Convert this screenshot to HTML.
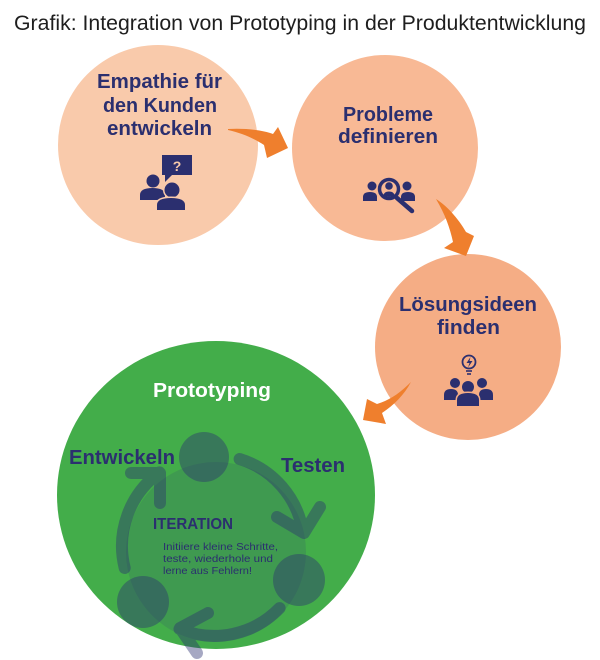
<!DOCTYPE html>
<html>
<head>
<meta charset="utf-8">
<style>
  html,body{margin:0;padding:0;background:#fff;}
  svg{display:block;}
  text{font-family:"Liberation Sans","DejaVu Sans",sans-serif;}
</style>
</head>
<body>
<svg width="600" height="660" viewBox="0 0 600 660" xmlns="http://www.w3.org/2000/svg">
  <rect width="600" height="660" fill="#fff"/>

  <!-- Title -->
  <text x="14" y="30" font-size="21" fill="#1e1e1e" textLength="572" lengthAdjust="spacingAndGlyphs">Grafik: Integration von Prototyping in der Produktentwicklung</text>

  <!-- Peach circles -->
  <circle cx="158" cy="145" r="100" fill="#f9caab"/>
  <circle cx="385" cy="148" r="93" fill="#f8b995"/>
  <circle cx="468" cy="347" r="93" fill="#f5ad85"/>

  <!-- Green circle -->
  <ellipse cx="216" cy="495" rx="159" ry="154" fill="#43ad4a"/>

  <!-- Circle texts -->
  <g fill="#2b2f6f" font-weight="bold" font-size="20">
    <text x="97" y="88" textLength="125" lengthAdjust="spacingAndGlyphs">Empathie für</text>
    <text x="103" y="112" textLength="114" lengthAdjust="spacingAndGlyphs">den Kunden</text>
    <text x="107" y="135" textLength="105" lengthAdjust="spacingAndGlyphs">entwickeln</text>

    <text x="343" y="121" textLength="90" lengthAdjust="spacingAndGlyphs">Probleme</text>
    <text x="338" y="143" textLength="100" lengthAdjust="spacingAndGlyphs">definieren</text>

    <text x="399" y="311" textLength="138" lengthAdjust="spacingAndGlyphs">Lösungsideen</text>
    <text x="437" y="334" textLength="63" lengthAdjust="spacingAndGlyphs">finden</text>
  </g>

  <!-- Icon 1: people with question bubble -->
  <g fill="#2b2f6f">
    <rect x="162" y="155" width="30" height="20"/>
    <path d="M165 174 L173 174 L165 182 Z"/>
    <text x="177" y="171" font-size="14" font-weight="bold" fill="#f9caab" text-anchor="middle">?</text>
    <circle cx="153" cy="181" r="6.5"/>
    <path d="M140 200 V195 Q140 188 152.5 188 Q165 188 165 195 V200 Z"/>
    <circle cx="172" cy="190" r="7.5" stroke="#f9caab" stroke-width="3" paint-order="stroke"/>
    <path d="M157 210 V205 Q157 198 171 198 Q185 198 185 205 V210 Z" stroke="#f9caab" stroke-width="3" paint-order="stroke"/>
  </g>

  <!-- Icon 2: people search -->
  <g fill="#2b2f6f">
    <circle cx="372" cy="186" r="4.5"/>
    <path d="M363 201 V197 Q363 192 370 192 Q377 192 377 197 V201 Z"/>
    <circle cx="407" cy="186" r="4.5"/>
    <path d="M401 201 V197 Q401 192 408 192 Q415 192 415 197 V201 Z"/>
    <circle cx="389" cy="189" r="12.5" fill="#f8b995"/>
    <circle cx="389" cy="189" r="9.5" fill="none" stroke="#2b2f6f" stroke-width="3.5"/>
    <circle cx="389" cy="186" r="3.8"/>
    <path d="M383.5 195.5 Q384 191.5 389 191.5 Q394 191.5 394.5 195.5 Q389 198.5 383.5 195.5 Z"/>
    <line x1="397" y1="198" x2="412" y2="211" stroke="#2b2f6f" stroke-width="4.5" stroke-linecap="round"/>
  </g>

  <!-- Icon 3: lightbulb + team -->
  <g fill="#2b2f6f">
    <circle cx="469" cy="362" r="6.5" fill="none" stroke="#2b2f6f" stroke-width="1.8"/>
    <path d="M470.5 357 L466.5 363 L469.5 363 L468 367.5 L472.5 361 L469.5 361 Z"/>
    <line x1="466" y1="371" x2="472" y2="371" stroke="#2b2f6f" stroke-width="1.6"/>
    <line x1="467" y1="374" x2="471" y2="374" stroke="#2b2f6f" stroke-width="1.6"/>
    <circle cx="455" cy="383" r="5"/>
    <path d="M444 400 V395 Q444 389 451 389 Q458 389 458 395 V400 Z"/>
    <circle cx="482" cy="383" r="5"/>
    <path d="M479 400 V395 Q479 389 486 389 Q493 389 493 395 V400 Z"/>
    <circle cx="468" cy="387" r="6" stroke="#f5ad85" stroke-width="3" paint-order="stroke"/>
    <path d="M457 406 V400 Q457 393 468 393 Q479 393 479 400 V406 Z" stroke="#f5ad85" stroke-width="3" paint-order="stroke"/>
  </g>

  <!-- Orange arrows -->
  <g fill="#ef7f2d">
    <path d="M228 129 C245 128 262 130 273 134 L278 127 L288 148 L267 158 L264 145 C255 139 242 133 228 130 Z"/>
    <path d="M436 199 C446 205 458 218 466 232 L474 236 L466 256 L444 248 L453 242 C450 228 445 214 436 199 Z"/>
    <path d="M411 382 C400 393 390 400 377 404 L367 399 L363 420 L386 424 L382 413 C394 405 404 395 411 382 Z"/>
  </g>

  <!-- Iteration cycle overlay -->
  <circle cx="216" cy="552" r="90" fill="#2b2f6f" fill-opacity="0.15"/>
  <g fill="#2b2f6f" fill-opacity="0.42">
    <circle cx="204" cy="457" r="25"/>
    <circle cx="299" cy="580" r="26"/>
    <circle cx="143" cy="602" r="26"/>
  </g>
  <g fill="none" stroke="#2b2f6f" stroke-opacity="0.42" stroke-width="12" stroke-linecap="round" stroke-linejoin="round">
    <path d="M239.6 459 A91 91 0 0 1 302.9 531.8 M277 517 L304 533 L320 507"/>
    <path d="M279.6 608.1 A91 91 0 0 1 179.5 629 M208 613 L180 628 L197 653"/>
    <path d="M124.7 568 A91 91 0 0 1 159.5 472.4 M131 473 L160 473 L160 503"/>
  </g>

  <!-- Green circle texts -->
  <text x="153" y="397" font-size="20" font-weight="bold" fill="#ffffff" textLength="118" lengthAdjust="spacingAndGlyphs">Prototyping</text>
  <g fill="#2b2f6f">
    <text x="69" y="464" font-size="20" font-weight="bold" textLength="106" lengthAdjust="spacingAndGlyphs">Entwickeln</text>
    <text x="281" y="472" font-size="20" font-weight="bold" textLength="64" lengthAdjust="spacingAndGlyphs">Testen</text>
    <text x="153" y="529" font-size="16" font-weight="bold" textLength="80" lengthAdjust="spacingAndGlyphs">ITERATION</text>
    <text x="163" y="550" font-size="10.5" textLength="115" lengthAdjust="spacingAndGlyphs">Initiiere kleine Schritte,</text>
    <text x="163" y="562" font-size="10.5" textLength="110" lengthAdjust="spacingAndGlyphs">teste, wiederhole und</text>
    <text x="163" y="574" font-size="10.5" textLength="89" lengthAdjust="spacingAndGlyphs">lerne aus Fehlern!</text>
  </g>
</svg>
</body>
</html>
